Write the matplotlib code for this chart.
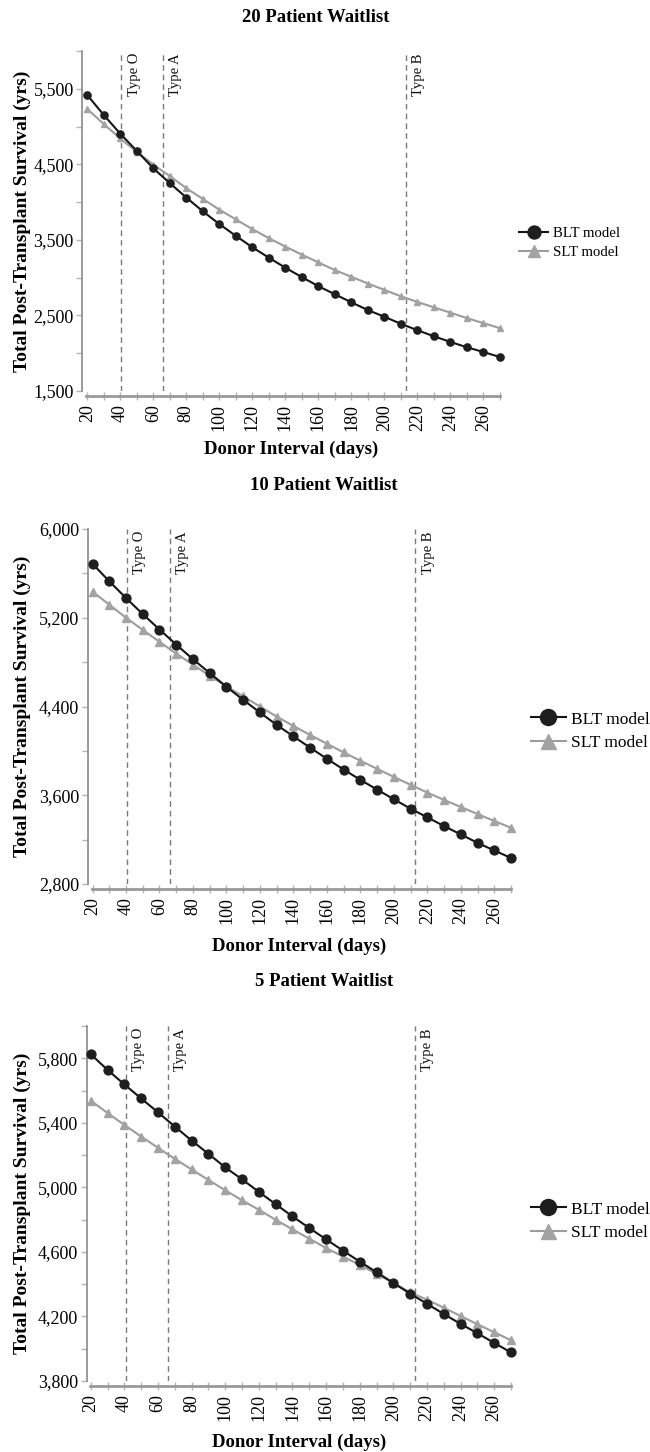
import matplotlib
matplotlib.use("Agg")
import matplotlib.pyplot as plt
from matplotlib.ticker import MultipleLocator, FuncFormatter

plt.rcParams['font.family'] = ['Liberation Serif', 'DejaVu Serif']

# donor interval (days)
days = [20, 30, 40, 50, 60, 70, 80, 90, 100, 110, 120, 130, 140,
        150, 160, 170, 180, 190, 200, 210, 220, 230, 240, 250, 260, 270]

# 20 patient waitlist
blt_20 = [5416, 5153, 4904, 4678, 4447, 4251, 4060, 3878, 3709, 3553, 3402, 3264, 3131,
          3007, 2887, 2780, 2673, 2571, 2482, 2389, 2304, 2224, 2149, 2078, 2016, 1949]
slt_20 = [5233, 5033, 4842, 4664, 4496, 4344, 4184, 4042, 3900, 3771, 3642, 3522, 3411,
          3304, 3202, 3100, 3011, 2922, 2838, 2753, 2678, 2607, 2536, 2464, 2398, 2331]

# 10 patient waitlist
blt_10 = [5686, 5529, 5378, 5233, 5094, 4958, 4826, 4702, 4578, 4460, 4346, 4234, 4131,
          4029, 3929, 3832, 3739, 3651, 3564, 3479, 3401, 3322, 3247, 3171, 3102, 3035]
slt_10 = [5435, 5318, 5200, 5091, 4983, 4877, 4777, 4678, 4581, 4491, 4400, 4309, 4225,
          4143, 4065, 3986, 3911, 3838, 3766, 3694, 3624, 3558, 3494, 3431, 3368, 3307]

# 5 patient waitlist
blt_5 = [5825, 5728, 5638, 5551, 5465, 5377, 5290, 5208, 5124, 5050, 4972, 4896, 4820,
         4748, 4678, 4608, 4540, 4474, 4408, 4341, 4279, 4215, 4154, 4096, 4036, 3977]
slt_5 = [5537, 5461, 5387, 5315, 5245, 5177, 5111, 5046, 4982, 4920, 4861, 4799, 4740,
         4682, 4624, 4571, 4519, 4464, 4408, 4349, 4304, 4254, 4203, 4152, 4102, 4053]

# blood type cut-offs (days)
type_names = ['Type O', 'Type A', 'Type B']
type_days = [40.7, 66.0, 212.8]

titles = ['20 Patient Waitlist', '10 Patient Waitlist', '5 Patient Waitlist']
series = [(blt_20, slt_20), (blt_10, slt_10), (blt_5, slt_5)]

W, H = 650, 1452
fig = plt.figure(figsize=(W / 100, H / 100), dpi=100)

# layout per panel in pixels: left, right, top, bottom, xmin, y range, y major step
panels = [
    dict(l=82, r=500, t=51, b=391, xmin=16.8, ylim=(1500, 6000), major=1000, minor=500,
         title_y=18, xlab_y=449, leg_x=519, leg_y=243, leg_fs=10.6, ms=5.2, tms=5.0),
    dict(l=87.5, r=511, t=529, b=884, xmin=17.0, ylim=(2800, 6000), major=800, minor=400,
         title_y=485, xlab_y=946, leg_x=531, leg_y=731, leg_fs=12.5, ms=6.4, tms=6.0),
    dict(l=86.7, r=511, t=1026, b=1381, xmin=17.6, ylim=(3800, 6000), major=400, minor=200,
         title_y=982, xlab_y=1442, leg_x=531, leg_y=1221, leg_fs=12.5, ms=6.4, tms=6.0),
]

blt_col = '#151515'
slt_col = '#9c9c9c'
spine_col = '#8a8a8a'
tick_col = '#b5b5b5'

for p, title, (blt, slt) in zip(panels, titles, series):
    ax = fig.add_axes([p['l'] / W, 1 - p['b'] / H, (p['r'] - p['l']) / W, (p['b'] - p['t']) / H])

    ax.plot(days, slt, color=slt_col, lw=1.5, marker='^', ms=p['tms'],
            mfc='#a3a3a3', mec='#a3a3a3', clip_on=False, label='SLT model', zorder=3)
    ax.plot(days, blt, color=blt_col, lw=1.5, marker='o', ms=p['ms'],
            mfc='#1e1e1e', mec='#1e1e1e', clip_on=False, label='BLT model', zorder=4)

    for name, d in zip(type_names, type_days):
        ax.axvline(d, color='#7a7a7a', lw=1.0, ls=(0, (4, 3)), zorder=2)
        ax.annotate(name, xy=(d, 1), xycoords=('data', 'axes fraction'),
                    xytext=(4.5, -1.5), textcoords='offset points',
                    rotation=90, ha='left', va='top', fontsize=10.5, color='#111111')

    ax.set_xlim(p['xmin'], 270)
    ax.set_ylim(*p['ylim'])
    ax.xaxis.set_major_locator(MultipleLocator(20))
    ax.xaxis.set_minor_locator(MultipleLocator(10))
    ax.set_xticks(days[::2])
    ax.yaxis.set_major_locator(MultipleLocator(p['major'], offset=p['ylim'][0] % p['major']))
    ax.yaxis.set_minor_locator(MultipleLocator(p['minor'], offset=p['ylim'][0] % p['minor']))
    ax.yaxis.set_major_formatter(FuncFormatter(lambda v, pos: f'{v:,.0f}'))

    for s in ['top', 'right']:
        ax.spines[s].set_visible(False)
    ax.spines['left'].set_color(spine_col)
    ax.spines['left'].set_linewidth(1.2)
    ax.spines['bottom'].set_color('#999999')
    ax.spines['bottom'].set_linewidth(2.0)
    ax.spines['bottom'].set_position(('outward', 3.6))
    ax.spines['bottom'].set_bounds(19.5, 270)

    ax.tick_params(axis='y', which='both', length=4, width=1, color=tick_col,
                   labelsize=13, pad=2)
    ax.tick_params(axis='x', which='both', direction='inout', length=6, width=1,
                   color=tick_col, labelsize=13, pad=3, labelrotation=90)

    fig.text((p['l'] + p['r'] + 50) / 2 / W, 1 - p['title_y'] / H, title,
             ha='center', va='center', fontsize=13.5, fontweight='bold')
    fig.text((p['l'] + p['r']) / 2 / W, 1 - p['xlab_y'] / H, 'Donor Interval (days)',
             ha='center', va='center', fontsize=13.5, fontweight='bold')
    fig.text(22 / W, 1 - (p['t'] + p['b']) / 2 / H, 'Total Post-Transplant Survival (yrs)',
             ha='center', va='center', rotation=90, fontsize=14, fontweight='bold')

    h, lab = ax.get_legend_handles_labels()
    ax.legend(h[::-1], lab[::-1], loc='center left',
              bbox_to_anchor=(p['leg_x'] / W, 1 - p['leg_y'] / H),
              bbox_transform=fig.transFigure, frameon=False, borderpad=0,
              borderaxespad=0, handlelength=2.0, handletextpad=0.3,
              labelspacing=0.4, markerscale=1.8, fontsize=p['leg_fs'])

fig.savefig('out.png', dpi=100)
